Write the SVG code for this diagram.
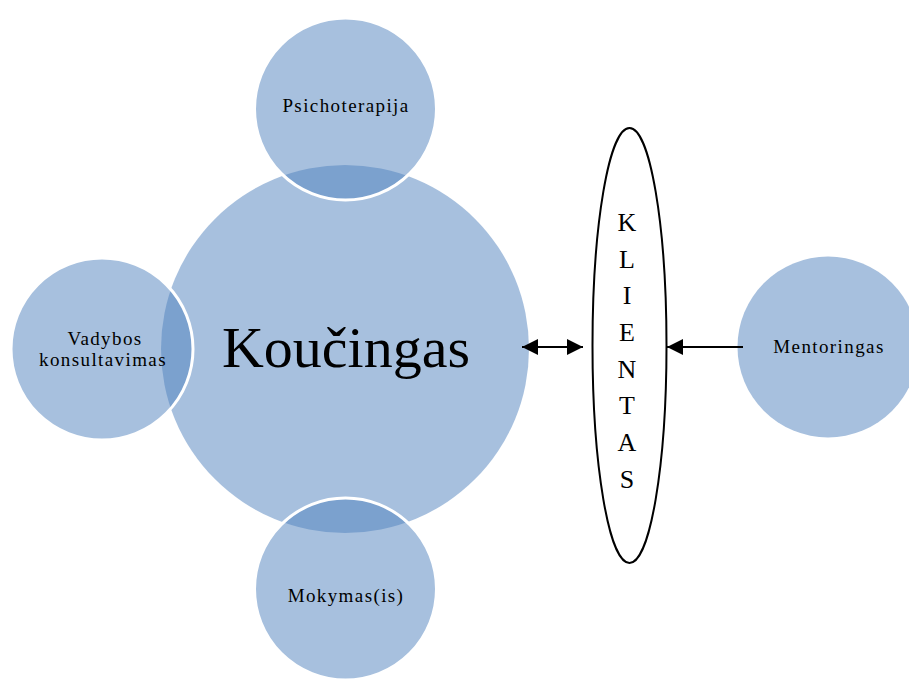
<svg xmlns="http://www.w3.org/2000/svg" width="909" height="680" viewBox="0 0 909 680">
  <style>
    .bubble { fill: #4F81BD; fill-opacity: 0.5; }
    .sat { stroke: #FFFFFF; stroke-width: 3; }
    .lbl { font-family: "Liberation Serif", "Times New Roman", serif; font-size: 19px; letter-spacing: 1.4px; fill: #000000; text-anchor: middle; }
    .big { font-family: "Liberation Serif", "Times New Roman", serif; font-size: 58px; fill: #000000; text-anchor: middle; }
    .vert { font-family: "Liberation Serif", "Times New Roman", serif; font-size: 26px; fill: #000000; text-anchor: middle; }
    .link { stroke: #000000; stroke-width: 2; fill: none; }
  </style>
  <defs>
    <marker id="head" viewBox="0 0 16 16" markerWidth="16" markerHeight="16" refX="16" refY="8" orient="auto-start-reverse" markerUnits="userSpaceOnUse">
      <path d="M0,0 L16,8 L0,16 z" fill="#000000"/>
    </marker>
  </defs>

  <rect width="909" height="680" fill="#FFFFFF"/>

  <!-- central circle -->
  <g id="koucingas">
    <circle class="bubble" cx="345" cy="349" r="184"/>
    <text class="big" x="346" y="367">Koučingas</text>
  </g>

  <!-- satellite circles -->
  <g id="psichoterapija">
    <circle class="bubble sat" cx="345.5" cy="109" r="91"/>
    <text class="lbl" x="346" y="112">Psichoterapija</text>
  </g>

  <g id="vadybos-konsultavimas">
    <circle class="bubble sat" cx="102" cy="349" r="91"/>
    <text class="lbl" x="105" y="345">Vadybos</text>
    <text class="lbl" x="103" y="366">konsultavimas</text>
  </g>

  <g id="mokymasis">
    <circle class="bubble sat" cx="345.5" cy="589" r="91"/>
    <text class="lbl" x="346" y="602">Mokymas(is)</text>
  </g>

  <g id="mentoringas">
    <circle class="bubble" cx="828" cy="347" r="90.5"/>
    <text class="lbl" x="829" y="353">Mentoringas</text>
  </g>

  <!-- client ellipse with vertical lettering -->
  <g id="klientas">
    <ellipse cx="629.5" cy="345.5" rx="37" ry="217.5" fill="#FFFFFF" stroke="#000000" stroke-width="2"/>
    <text class="vert" x="627" y="231">K</text>
    <text class="vert" x="627" y="267.5">L</text>
    <text class="vert" x="627" y="304">I</text>
    <text class="vert" x="627" y="341">E</text>
    <text class="vert" x="627" y="377.5">N</text>
    <text class="vert" x="627" y="414">T</text>
    <text class="vert" x="627" y="451">A</text>
    <text class="vert" x="627" y="488">S</text>
  </g>

  <!-- connectors -->
  <g id="connectors">
    <line class="link" x1="522" y1="347" x2="583" y2="347" marker-start="url(#head)" marker-end="url(#head)"/>
    <line class="link" x1="743" y1="347" x2="667" y2="347" marker-end="url(#head)"/>
  </g>
</svg>
